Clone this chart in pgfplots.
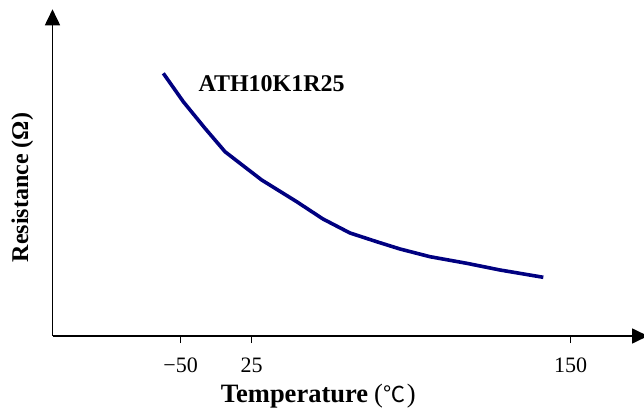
\documentclass[border=0pt]{standalone}
\usepackage{pgfplots}
\pgfplotsset{compat=1.18}
\usepackage{fontspec}
\setmainfont{Liberation Serif}
\newfontfamily\cjk{Noto Sans CJK SC}
\usetikzlibrary{arrows.meta}
\definecolor{curve}{RGB}{0,0,128}
\begin{document}
\begin{tikzpicture}
\useasboundingbox (0,0) rectangle (644bp,409bp);
\begin{axis}[
  at={(52.5bp,73bp)}, anchor=south west,
  scale only axis,
  width=595.5bp, height=326.7bp,
  xmin=52.5, xmax=648, ymin=0, ymax=326.7,
  axis lines=left,
  axis line style={line width=1.7bp, -{Triangle[length=16bp,width=15bp]}},
  clip=false,
  xtick={180.7,251.5,570.5},
  xticklabels={−50,25,150},
  ytick=\empty,
  xtick pos=bottom,
  tick align=outside,
  major tick length=7bp,
  xtick style={draw=black, line width=1.5bp},
  xticklabel style={font=\fontsize{22bp}{24bp}\selectfont, anchor=base, yshift=-29bp},
  xlabel={\fontsize{26.5bp}{30bp}\selectfont\bfseries Temperature\kern6bp{\mdseries(\kern1bp{\cjk\fontsize{22bp}{24bp}\selectfont ℃}\kern1bp)}},
  xlabel style={at={(axis cs:220.7,-66)}, anchor=base west, inner sep=0pt},
  ylabel={\fontsize{24bp}{28bp}\selectfont\bfseries Resistance (Ω)},
  ylabel style={at={(axis cs:28,148.5)}, anchor=base, rotate=0, inner sep=0pt},
]
\addplot[color=curve, line width=3.6bp, no markers] coordinates {
(163.3,262.7) (183.3,234.3) (205,207.7) (225,184.3) (240,172.7)
(261.7,156) (276.7,146.7) (296.7,134.3) (323,117) (350,103) (376.7,94.3)
(400,87) (430,79.3) (466.7,72.7) (500,66) (543.3,58.7)
};
\node[anchor=base west, inner sep=0pt, font=\fontsize{24bp}{28bp}\selectfont\bfseries] at (axis cs:198.3,244.3) {ATH10K1R25};
\foreach \t in {180.7,251.5,570.5}{
  \edef\temp{\noexpand\draw[line width=1.5bp] (axis cs:\t,0) -- (axis cs:\t,-6);}\temp
}
\end{axis}
\end{tikzpicture}
\end{document}
